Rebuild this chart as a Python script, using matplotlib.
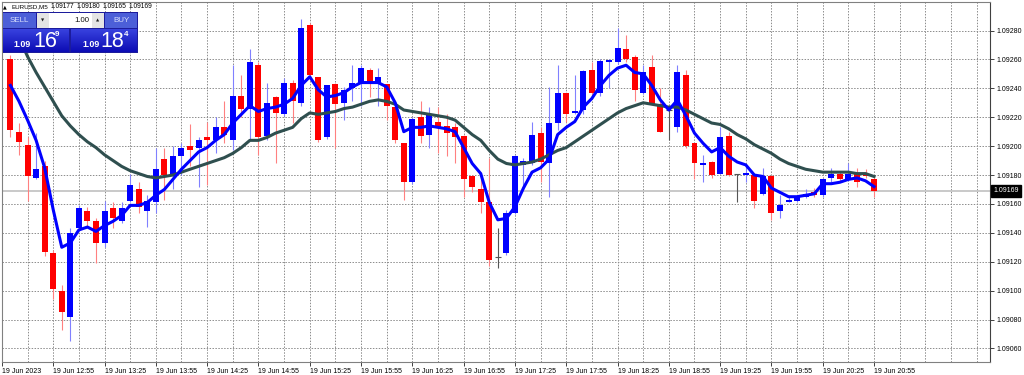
import numpy as np
import matplotlib.pyplot as plt
from matplotlib.patches import Rectangle
from matplotlib.colors import LinearSegmentedColormap
import matplotlib.transforms as mtransforms

# EURUSD M5, 19 Jun 2023 12:30 .. 20:55 (102 bars)
opens = [1.09260, 1.09210, 1.09201, 1.09178, 1.09186, 1.09126, 1.09100, 1.09082, 1.09143, 1.09155,
         1.09148, 1.09133, 1.09157, 1.09148, 1.09162, 1.09170, 1.09155, 1.09161, 1.09191, 1.09180,
         1.09193, 1.09200, 1.09199, 1.09206, 1.09204, 1.09213, 1.09204, 1.09235, 1.09226, 1.09256,
         1.09207, 1.09234, 1.09222, 1.09244, 1.09230, 1.09284, 1.09248, 1.09206, 1.09243, 1.09230,
         1.09240, 1.09244, 1.09253, 1.09244, 1.09243, 1.09227, 1.09202, 1.09175, 1.09220, 1.09208,
         1.09217, 1.09214, 1.09213, 1.09207, 1.09179, 1.09170, 1.09161, 1.09123, 1.09126, 1.09154,
         1.09187, 1.09188, 1.09209, 1.09188, 1.09216, 1.09237, 1.09223, 1.09225, 1.09253, 1.09237,
         1.09258, 1.09258, 1.09267, 1.09262, 1.09237, 1.09255, 1.09229, 1.09225, 1.09213, 1.09249,
         1.09202, 1.09187, 1.09189, 1.09181, 1.09207, 1.09181, 1.09180, 1.09180, 1.09167, 1.09179,
         1.09155, 1.09161, 1.09162, 1.09165, 1.09168, 1.09166, 1.09178, 1.09181, 1.09177, 1.09181,
         1.09181, 1.09177]
highs = [1.09263, 1.09216, 1.09206, 1.09209, 1.09190, 1.09128, 1.09104, 1.09143, 1.09159, 1.09158,
         1.09150, 1.09162, 1.09161, 1.09161, 1.09181, 1.09175, 1.09166, 1.09199, 1.09199, 1.09200,
         1.09202, 1.09215, 1.09206, 1.09217, 1.09220, 1.09231, 1.09256, 1.09249, 1.09267, 1.09258,
         1.09244, 1.09235, 1.09247, 1.09246, 1.09288, 1.09285, 1.09248, 1.09242, 1.09244, 1.09241,
         1.09256, 1.09256, 1.09254, 1.09254, 1.09243, 1.09227, 1.09202, 1.09220, 1.09231, 1.09227,
         1.09227, 1.09222, 1.09216, 1.09208, 1.09180, 1.09179, 1.09192, 1.09143, 1.09156, 1.09194,
         1.09192, 1.09217, 1.09213, 1.09241, 1.09256, 1.09237, 1.09249, 1.09253, 1.09258, 1.09260,
         1.09260, 1.09282, 1.09277, 1.09263, 1.09256, 1.09263, 1.09240, 1.09226, 1.09256, 1.09253,
         1.09202, 1.09194, 1.09190, 1.09213, 1.09210, 1.09181, 1.09187, 1.09180, 1.09185, 1.09180,
         1.09166, 1.09165, 1.09165, 1.09170, 1.09171, 1.09178, 1.09185, 1.09182, 1.09188, 1.09185,
         1.09184, 1.09180]
lows = [1.09206, 1.09194, 1.09162, 1.09177, 1.09124, 1.09094, 1.09073, 1.09065, 1.09142, 1.09145,
        1.09119, 1.09130, 1.09143, 1.09147, 1.09161, 1.09154, 1.09144, 1.09154, 1.09163, 1.09170,
        1.09180, 1.09186, 1.09172, 1.09173, 1.09195, 1.09202, 1.09197, 1.09220, 1.09204, 1.09194,
        1.09204, 1.09188, 1.09221, 1.09216, 1.09228, 1.09249, 1.09203, 1.09205, 1.09199, 1.09218,
        1.09231, 1.09228, 1.09234, 1.09228, 1.09218, 1.09202, 1.09163, 1.09174, 1.09202, 1.09199,
        1.09195, 1.09193, 1.09188, 1.09165, 1.09168, 1.09154, 1.09117, 1.09116, 1.09125, 1.09153,
        1.09170, 1.09187, 1.09175, 1.09165, 1.09211, 1.09217, 1.09222, 1.09222, 1.09235, 1.09235,
        1.09240, 1.09257, 1.09258, 1.09231, 1.09236, 1.09229, 1.09210, 1.09204, 1.09210, 1.09199,
        1.09177, 1.09175, 1.09178, 1.09181, 1.09179, 1.09161, 1.09175, 1.09157, 1.09166, 1.09149,
        1.09150, 1.09161, 1.09161, 1.09164, 1.09165, 1.09165, 1.09175, 1.09175, 1.09176, 1.09172,
        1.09178, 1.09165]
closes = [1.09211, 1.09203, 1.09179, 1.09184, 1.09127, 1.09101, 1.09085, 1.09140, 1.09157, 1.09148,
          1.09133, 1.09155, 1.09150, 1.09157, 1.09173, 1.09158, 1.09162, 1.09184, 1.09180, 1.09193,
          1.09199, 1.09197, 1.09204, 1.09204, 1.09213, 1.09208, 1.09235, 1.09226, 1.09258, 1.09206,
          1.09230, 1.09223, 1.09244, 1.09231, 1.09282, 1.09249, 1.09204, 1.09242, 1.09229, 1.09239,
          1.09244, 1.09254, 1.09243, 1.09248, 1.09228, 1.09204, 1.09175, 1.09219, 1.09207, 1.09222,
          1.09213, 1.09209, 1.09206, 1.09177, 1.09172, 1.09161, 1.09121, 1.09123, 1.09154, 1.09193,
          1.09190, 1.09208, 1.09189, 1.09216, 1.09237, 1.09222, 1.09224, 1.09252, 1.09237, 1.09259,
          1.09259, 1.09268, 1.09260, 1.09239, 1.09251, 1.09229, 1.09210, 1.09225, 1.09251, 1.09200,
          1.09188, 1.09188, 1.09180, 1.09206, 1.09180, 1.09181, 1.09181, 1.09162, 1.09179, 1.09154,
          1.09159, 1.09163, 1.09165, 1.09167, 1.09166, 1.09177, 1.09181, 1.09177, 1.09181, 1.09175,
          1.09179, 1.09169]
ma_fast = [1.09242, 1.09231, 1.09218, 1.09204, 1.09185, 1.09156, 1.09130, 1.09133, 1.09142, 1.09144,
           1.09141, 1.09145, 1.09148, 1.09152, 1.09159, 1.09159, 1.09161, 1.09166, 1.09170, 1.09177,
           1.09184, 1.09190, 1.09196, 1.09199, 1.09204, 1.09208, 1.09216, 1.09222, 1.09228, 1.09224,
           1.09226, 1.09227, 1.09229, 1.09233, 1.09242, 1.09248, 1.09239, 1.09234, 1.09235, 1.09237,
           1.09241, 1.09244, 1.09244, 1.09244, 1.09241, 1.09230, 1.09210, 1.09213, 1.09213, 1.09214,
           1.09213, 1.09212, 1.09210, 1.09199, 1.09188, 1.09181, 1.09161, 1.09149, 1.09150, 1.09158,
           1.09171, 1.09182, 1.09185, 1.09191, 1.09208, 1.09213, 1.09217, 1.09227, 1.09233, 1.09242,
           1.09249, 1.09254, 1.09256, 1.09251, 1.09250, 1.09242, 1.09232, 1.09225, 1.09232, 1.09221,
           1.09209, 1.09202, 1.09196, 1.09199, 1.09193, 1.09189, 1.09187, 1.09180, 1.09179, 1.09171,
           1.09168, 1.09165, 1.09165, 1.09166, 1.09167, 1.09174, 1.09174, 1.09175, 1.09177, 1.09178,
           1.09176, 1.09172]
ma_slow = [1.09286, 1.09275, 1.09262, 1.09251, 1.09241, 1.09231, 1.09221, 1.09214, 1.09208, 1.09203,
           1.09199, 1.09194, 1.09190, 1.09186, 1.09183, 1.09181, 1.09179, 1.09178, 1.09179, 1.09180,
           1.09182, 1.09184, 1.09186, 1.09188, 1.09190, 1.09192, 1.09195, 1.09199, 1.09204, 1.09204,
           1.09206, 1.09209, 1.09211, 1.09213, 1.09219, 1.09223, 1.09222, 1.09223, 1.09224, 1.09226,
           1.09227, 1.09229, 1.09231, 1.09232, 1.09231, 1.09229, 1.09225, 1.09224, 1.09223, 1.09222,
           1.09221, 1.09220, 1.09218, 1.09213, 1.09208, 1.09204, 1.09197, 1.09191, 1.09188, 1.09187,
           1.09188, 1.09189, 1.09191, 1.09194, 1.09197, 1.09199, 1.09203, 1.09207, 1.09211, 1.09215,
           1.09219, 1.09223, 1.09226, 1.09228, 1.09230, 1.09229, 1.09228, 1.09227, 1.09227, 1.09225,
           1.09222, 1.09219, 1.09216, 1.09215, 1.09212, 1.09208, 1.09205, 1.09201, 1.09198, 1.09195,
           1.09191, 1.09188, 1.09186, 1.09184, 1.09183, 1.09182, 1.09182, 1.09182, 1.09182, 1.09181,
           1.09181, 1.09179]

bid = 1.09169
price_ticks = [1.0906, 1.0908, 1.0910, 1.0912, 1.0914, 1.0916, 1.0918, 1.0920,
               1.0922, 1.0924, 1.0926, 1.0928]
time_labels = ["19 Jun 12:55", "19 Jun 13:25", "19 Jun 13:55", "19 Jun 14:25", "19 Jun 14:55",
               "19 Jun 15:25", "19 Jun 15:55", "19 Jun 16:25", "19 Jun 16:55", "19 Jun 17:25",
               "19 Jun 17:55", "19 Jun 18:25", "19 Jun 18:55", "19 Jun 19:25", "19 Jun 19:55",
               "19 Jun 20:25", "19 Jun 20:55"]
label_bars = list(range(5, 102, 6))   # bar index of each time label
grid_bars = list(range(2, 115, 3))

plt.rcParams['font.family'] = ['Liberation Sans', 'DejaVu Sans']

W, H = 1024, 375
fig = plt.figure(figsize=(W / 100, H / 100), dpi=100)
fig.patch.set_facecolor('white')
ax = fig.add_axes([2 / W, 13 / H, 988 / W, 360.5 / H])

o = np.array(opens); h = np.array(highs); l = np.array(lows); c = np.array(closes)
x = np.arange(len(c))
up = c > o
dn = c < o
flat = c == o

# grid
for gx in grid_bars:
    ax.axvline(gx, color='#8c8c8c', lw=0.7, ls=(0, (1.5, 1.5)), zorder=0)
for gy in price_ticks:
    ax.axhline(gy, color='#8c8c8c', lw=0.7, ls=(0, (1.5, 1.5)), zorder=0)

# bid line
ax.axhline(bid, color='#c0c0c0', lw=1.2, zorder=1)

# wicks
ax.vlines(x[up], l[up], h[up], color='#8080ff', lw=0.8, zorder=2)
ax.vlines(x[dn], l[dn], h[dn], color='#ff8080', lw=0.8, zorder=2)
ax.vlines(x[flat], l[flat], h[flat], color='#555555', lw=0.8, zorder=2)

# bodies
minh = 0.000014
ax.bar(x[up], np.maximum(c[up] - o[up], minh), bottom=o[up], width=0.7,
       color='#0000ff', lw=0, zorder=3)
ax.bar(x[dn], -np.maximum(o[dn] - c[dn], minh), bottom=o[dn], width=0.7,
       color='#ff0000', lw=0, zorder=3)
ax.hlines(o[flat], x[flat] - 0.35, x[flat] + 0.35, color='#555555', lw=0.8, zorder=3)

# moving averages
ax.plot(x, ma_slow, color='#2f4f4f', lw=2.2, zorder=4, solid_joinstyle='round')
ax.plot(x, ma_fast, color='#0000ff', lw=2.2, zorder=5, solid_joinstyle='round')

ax.set_xlim(-0.99, 114.56)
ax.set_ylim(1.090506, 1.093001)

# axes
for s in ax.spines.values():
    s.set_color('#808080')
    s.set_linewidth(0.8)
ax.spines['right'].set_color('#404040')

ax.yaxis.tick_right()
ax.set_yticks(price_ticks, labels=['%.5f' % t for t in price_ticks])
ax.tick_params(axis='y', direction='out', length=3, width=0.7, pad=1.5,
               labelsize=5.0, colors='#404040', labelcolor='black')

ax.set_xticks([-0.99] + label_bars, labels=["19 Jun 2023"] + time_labels)
ax.tick_params(axis='x', direction='out', length=3, width=0.7, pad=1.5,
               labelsize=5.0, colors='#404040', labelcolor='black')
for t in ax.get_xticklabels():
    t.set_ha('left')

# bid label
trans = mtransforms.blended_transform_factory(ax.transAxes, ax.transData)
ax.text(1.0035, bid, '1.09169', transform=trans, ha='left', va='center', fontsize=5.0,
        color='white', clip_on=False, zorder=6,
        bbox=dict(boxstyle='square,pad=0.3', fc='black', ec='black'))


# --- header and one-click trading panel (figure pixel coords) ---
def fx(px):
    return px / W


def fy(py):
    return 1 - py / H


def rect(x0, y0, x1, y1, fc, ec='none', lw=0):
    fig.add_artist(Rectangle((fx(x0), fy(y1)), fx(x1) - fx(x0), fy(y0) - fy(y1),
                             transform=fig.transFigure, fc=fc, ec=ec, lw=lw, zorder=10))


fig.text(fx(3), fy(6.5), '▲', fontsize=3.5, family='DejaVu Sans', va='center', color='black')
fig.text(fx(11), fy(6.5), 'EURUSD,M5', fontsize=4.5, va='center', color='black')
for px, val in zip([51, 77, 103, 129], ['1.09177', '1.09180', '1.09165', '1.09169']):
    fig.text(fx(px), fy(6.5), val, fontsize=4.8, va='center', color='black')

rect(2.5, 12.5, 137.5, 52.5, '#1c1c9c')
rect(3.3, 13.3, 35.5, 28, '#4c5fd8')
rect(36.7, 13.3, 48.5, 28, '#e4e4e4')
rect(49, 13.3, 92, 28, 'white')
rect(92.3, 13.3, 103.5, 28, '#e4e4e4')
rect(105, 13.3, 136.7, 28, '#4c5fd8')
fig.text(fx(19.4), fy(20.7), 'SELL', fontsize=5.8, ha='center', va='center', color='#d8defc', zorder=11)
fig.text(fx(121), fy(20.7), 'BUY', fontsize=5.8, ha='center', va='center', color='#d8defc', zorder=11)
fig.text(fx(89), fy(20.7), '1.00', fontsize=5.6, ha='right', va='center', color='#101010', zorder=11)
fig.text(fx(42.6), fy(20.9), '▼', fontsize=3, family='DejaVu Sans', ha='center', va='center', color='#202020', zorder=11)
fig.text(fx(97.9), fy(20.6), '▲', fontsize=3, family='DejaVu Sans', ha='center', va='center', color='#202020', zorder=11)

grad = LinearSegmentedColormap.from_list('panel', ['#3a44e0', '#0c0cb4'])
for x0, x1 in [(3.3, 69.3), (71, 136.7)]:
    pax = fig.add_axes([fx(x0), fy(51.7), fx(x1) - fx(x0), fy(28.5) - fy(51.7)], zorder=10)
    pax.imshow(np.linspace(0, 1, 40).reshape(-1, 1), cmap=grad, aspect='auto')
    pax.axis('off')

for x_small, x_big, x_sup, big, sup in [(13, 33, 55, '16', '9'), (82, 100, 124, '18', '4')]:
    fig.text(fx(x_small), fy(46.8), '1.09', fontsize=6.4, weight='bold', va='baseline', color='white', zorder=12)
    fig.text(fx(x_big), fy(47.3), big, fontsize=15.5, va='baseline', color='white', zorder=12)
    fig.text(fx(x_sup), fy(31.5), sup, fontsize=5.8, weight='bold', va='top', color='white', zorder=12)

fig.savefig('out.png', dpi=100)
